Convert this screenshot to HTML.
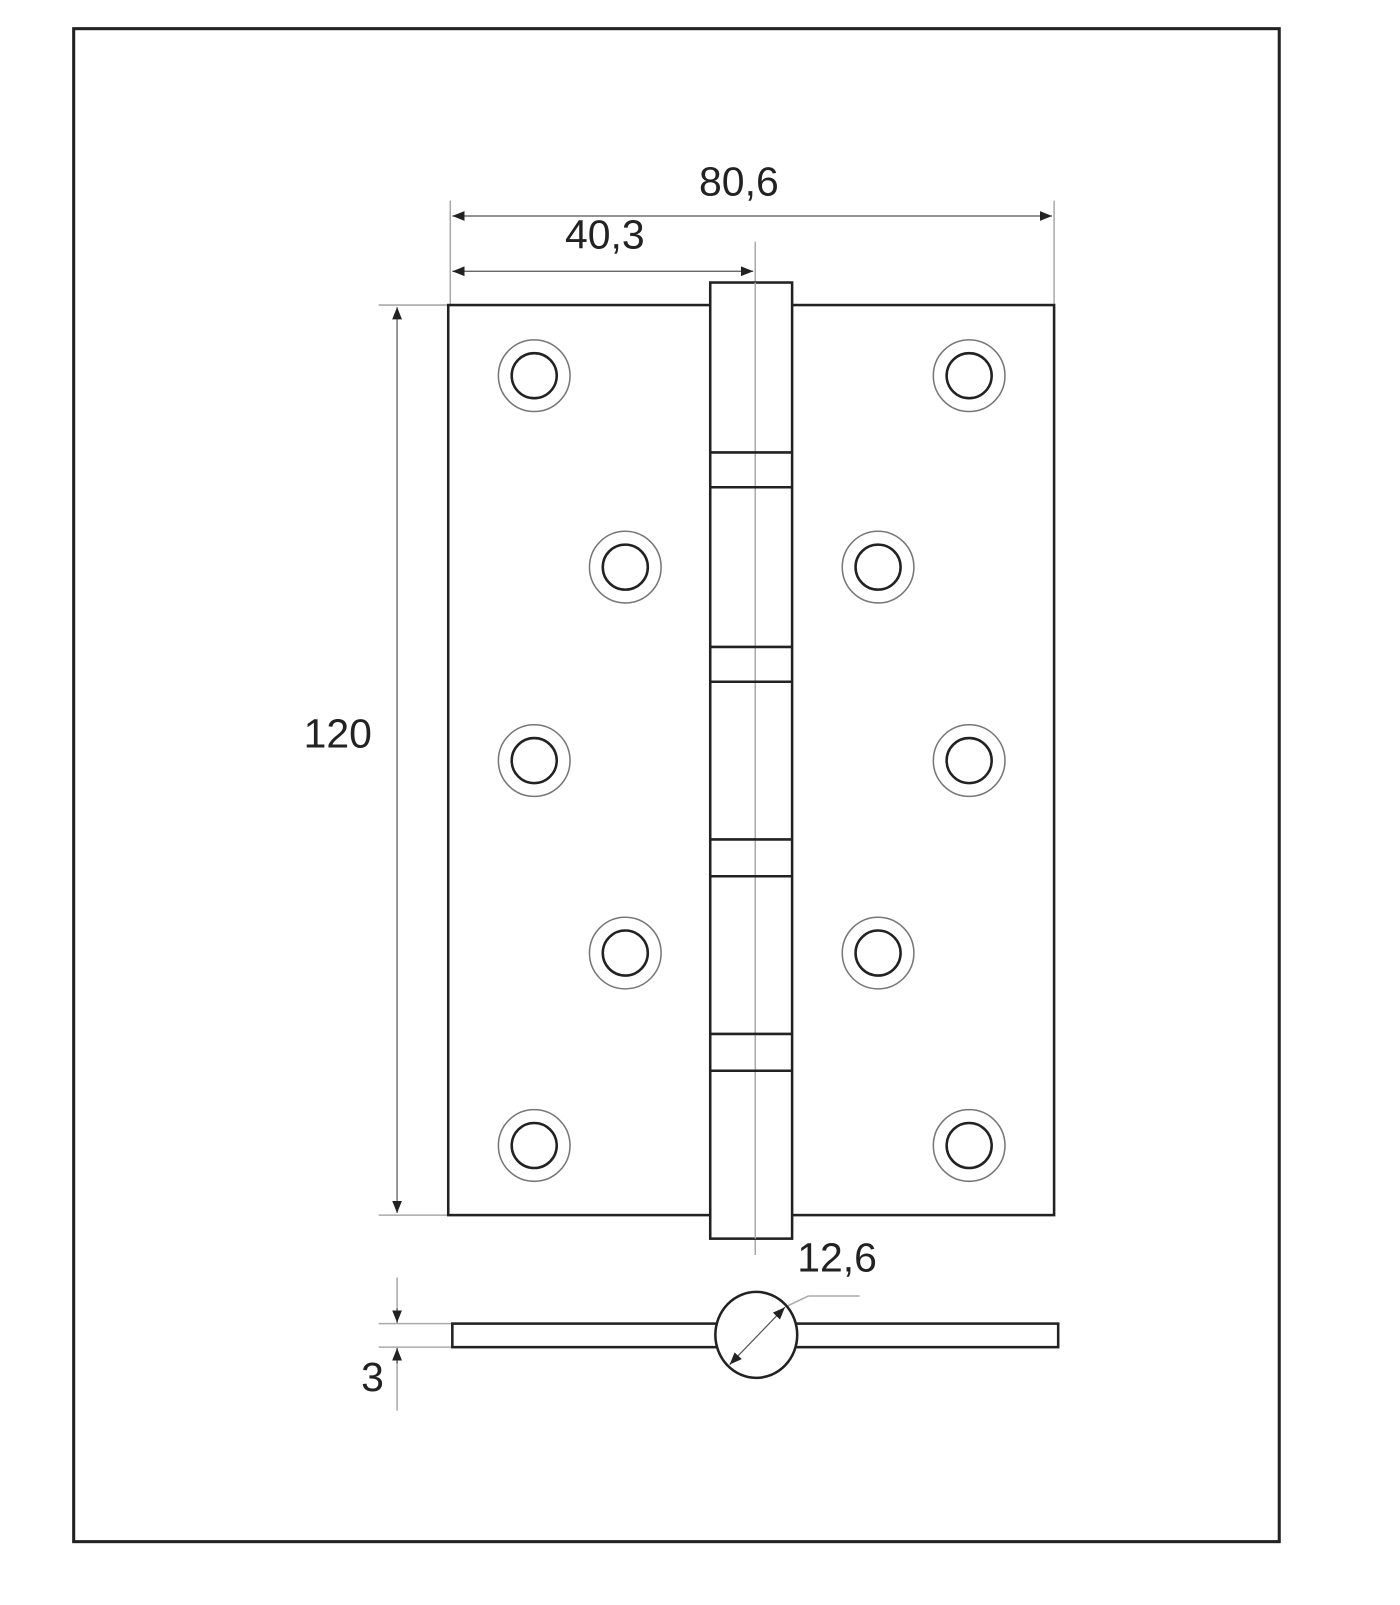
<!DOCTYPE html>
<html><head><style>html,body{margin:0;padding:0;background:#fff}</style></head><body>
<svg width="1400" height="1600" viewBox="0 0 1368 1563" preserveAspectRatio="none" xmlns="http://www.w3.org/2000/svg" font-family="Liberation Sans, DejaVu Sans, sans-serif">
<defs>
<marker id="a" viewBox="0 0 10 10" refX="10" refY="5" markerWidth="12" markerHeight="12" markerUnits="userSpaceOnUse" orient="auto-start-reverse"><path d="M0,1 L10,5 L0,9 z" fill="#222"/></marker>
</defs>
<rect x="72" y="28" width="1178" height="1478" fill="none" stroke="#222" stroke-width="3"/>
<g stroke="#aaa" stroke-width="1.5" fill="none">
<line x1="440" y1="196" x2="440" y2="298"/>
<line x1="1030" y1="196" x2="1030" y2="298"/>
<line x1="738" y1="236" x2="738" y2="1226"/>
<line x1="370" y1="298" x2="438" y2="298"/>
<line x1="370" y1="1187" x2="438" y2="1187"/>
<line x1="370" y1="1293" x2="442" y2="1293"/>
<line x1="370" y1="1316" x2="442" y2="1316"/>
<line x1="388" y1="1248" x2="388" y2="1293"/>
<line x1="388" y1="1316" x2="388" y2="1378"/>
<line x1="767" y1="1277" x2="790" y2="1266"/>
<line x1="790" y1="1266" x2="840" y2="1266"/>
</g>
<g stroke="#555" stroke-width="1.2">
<line x1="442" y1="211" x2="1028" y2="211" marker-start="url(#a)" marker-end="url(#a)"/>
<line x1="442" y1="265" x2="736" y2="265" marker-start="url(#a)" marker-end="url(#a)"/>
<line x1="388" y1="300" x2="388" y2="1185" marker-start="url(#a)" marker-end="url(#a)"/>
<line x1="388" y1="1278" x2="388" y2="1292" marker-end="url(#a)"/>
<line x1="388" y1="1332" x2="388" y2="1317" marker-end="url(#a)"/>
</g>
<g stroke="#222" stroke-width="2.5" fill="#fff">
<rect x="438" y="298" width="592" height="889"/>
<rect x="694" y="276" width="80" height="934"/>
<rect x="442" y="1293" width="592" height="23"/>
<ellipse cx="739" cy="1304" rx="40" ry="42"/>
</g>
<line x1="713" y1="1333" x2="767" y2="1277" stroke="#555" stroke-width="1.2" marker-start="url(#a)" marker-end="url(#a)"/>
<line x1="738" y1="276" x2="738" y2="1210" stroke="#aaa" stroke-width="1.5"/>
<g stroke="#222" stroke-width="2.5">
<line x1="694" y1="442" x2="774" y2="442"/><line x1="694" y1="476" x2="774" y2="476"/>
<line x1="694" y1="632" x2="774" y2="632"/><line x1="694" y1="666" x2="774" y2="666"/>
<line x1="694" y1="820" x2="774" y2="820"/><line x1="694" y1="856" x2="774" y2="856"/>
<line x1="694" y1="1010" x2="774" y2="1010"/><line x1="694" y1="1046" x2="774" y2="1046"/>
</g>
<g fill="none">
<g stroke="#777" stroke-width="1.5">
<circle cx="522" cy="367" r="35"/><circle cx="522" cy="743" r="35"/><circle cx="522" cy="1119" r="35"/>
<circle cx="611" cy="554" r="35"/><circle cx="611" cy="931" r="35"/>
<circle cx="947" cy="367" r="35"/><circle cx="947" cy="743" r="35"/><circle cx="947" cy="1119" r="35"/>
<circle cx="858" cy="554" r="35"/><circle cx="858" cy="931" r="35"/>
</g>
<g stroke="#222" stroke-width="2.5">
<circle cx="522" cy="367" r="22"/><circle cx="522" cy="743" r="22"/><circle cx="522" cy="1119" r="22"/>
<circle cx="611" cy="554" r="22"/><circle cx="611" cy="931" r="22"/>
<circle cx="947" cy="367" r="22"/><circle cx="947" cy="743" r="22"/><circle cx="947" cy="1119" r="22"/>
<circle cx="858" cy="554" r="22"/><circle cx="858" cy="931" r="22"/>
</g>
</g>
<g fill="#222" font-size="40">
<text x="722" y="191" text-anchor="middle">80,6</text>
<text x="591" y="243" text-anchor="middle">40,3</text>
<text x="330" y="730" text-anchor="middle">120</text>
<text x="818" y="1242" text-anchor="middle">12,6</text>
<text x="364" y="1359" text-anchor="middle">3</text>
</g>
</svg>
</body></html>
